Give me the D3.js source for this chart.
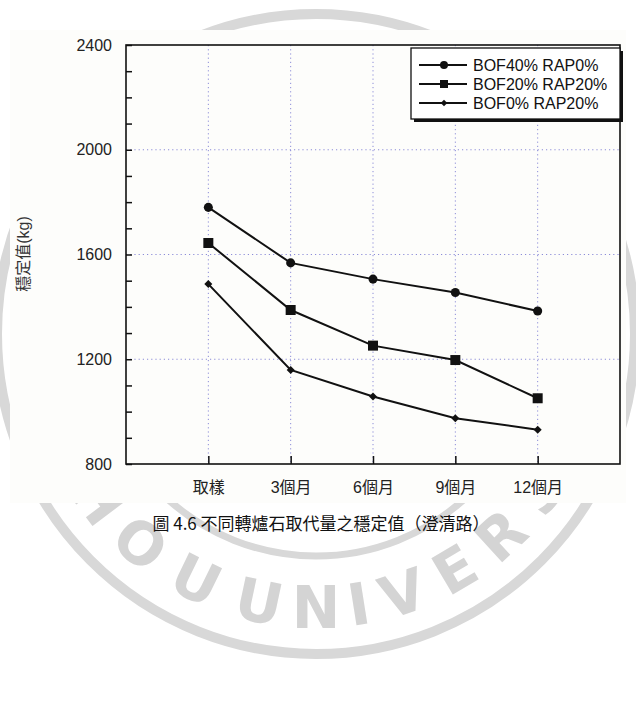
<!DOCTYPE html>
<html>
<head>
<meta charset="utf-8">
<script src="https://cdn.jsdelivr.net/npm/d3@7"></script>
<style>
  body { margin: 0; background: #fff; }
  svg { display: block; }
  text { font-family: "Liberation Sans", Arial, "Noto Sans CJK TC", sans-serif; }
</style>
</head>
<body>
<div id="chart"></div>
<script>
// 穩定值 (kg) 隨時間變化
const categories = ['取樣', '3個月', '6個月', '9個月', '12個月'];
const bof40rap0 = [1780, 1568, 1506, 1455, 1384];
const bof20rap20 = [1644, 1388, 1252, 1197, 1051];
const bof0rap20 = [1487, 1159, 1058, 975, 931];
const seriesNames = ['BOF40% RAP0%', 'BOF20% RAP20%', 'BOF0% RAP20%'];
const yMajorTicks = [800, 1200, 1600, 2000, 2400];
const yTitle = '穩定值(kg)';
const caption = '圖 4.6 不同轉爐石取代量之穩定值（澄清路）';

const W = 636, H = 705;
const plot = { left: 126, right: 620, top: 45, bottom: 464 };

const svg = d3.select('#chart').append('svg')
    .attr('width', W)
    .attr('height', H);

// 浮水印 (校徽)
const wm = { cx: 316, cy: 334, color: '#d8d8d8' };
svg.append('ellipse')
    .attr('cx', wm.cx).attr('cy', wm.cy)
    .attr('rx', 319).attr('ry', 320)
    .attr('fill', 'none')
    .attr('stroke', wm.color)
    .attr('stroke-width', 10);
svg.append('circle')
    .attr('cx', wm.cx).attr('cy', wm.cy)
    .attr('r', 222)
    .attr('fill', 'none')
    .attr('stroke', wm.color)
    .attr('stroke-width', 7);
const wmLetters = [
    ['I', 170], ['-', 163], ['S', 155], ['H', 143], ['O', 130], ['U', 116],
    ['U', 102], ['N', 90], ['I', 81], ['V', 71.5], ['E', 59.5], ['R', 47.5],
    ['S', 35], ['I', 27], ['T', 19], ['Y', 9]
];
svg.append('g').selectAll('text')
    .data(wmLetters)
    .enter()
    .append('text')
    .attr('transform', d => {
        const a = d[1] * Math.PI / 180;
        const x = wm.cx + 274 * Math.cos(a), y = wm.cy + 274 * Math.sin(a);
        return `translate(${x},${y}) rotate(${d[1] - 90})`;
    })
    .attr('text-anchor', 'middle')
    .attr('dominant-baseline', 'central')
    .attr('font-size', 58)
    .attr('font-weight', 'bold')
    .attr('fill', '#d4d4d4')
    .style('font-family', '"DejaVu Sans", sans-serif')
    .text(d => d[0]);

// 圖片底色
svg.append('rect')
    .attr('x', 10).attr('y', 30)
    .attr('width', 616).attr('height', 473)
    .attr('fill', '#fdfdfb');

const x = d3.scalePoint()
    .domain(categories)
    .range([plot.left, plot.right])
    .padding(1);
const y = d3.scaleLinear()
    .domain([800, 2400])
    .range([plot.bottom, plot.top]);

// 格線
const grid = svg.append('g')
    .attr('stroke', '#8c8cd8')
    .attr('stroke-width', 1)
    .attr('stroke-dasharray', '1.2,3');
grid.selectAll('line.v')
    .data(categories)
    .enter()
    .append('line')
    .attr('x1', d => x(d)).attr('x2', d => x(d))
    .attr('y1', plot.top).attr('y2', plot.bottom);
grid.selectAll('line.h')
    .data(yMajorTicks.slice(1, -1))
    .enter()
    .append('line')
    .attr('x1', plot.left).attr('x2', plot.right)
    .attr('y1', d => y(d)).attr('y2', d => y(d));

// 座標軸
svg.append('g')
    .attr('transform', `translate(${plot.left},0)`)
    .call(d3.axisLeft(y).tickValues(yMajorTicks).tickSize(0).tickPadding(14).tickFormat(d3.format('d')));
svg.append('g')
    .attr('transform', `translate(${plot.left},0)`)
    .call(d3.axisLeft(y).tickValues(d3.range(800, 2401, 100)).tickSize(-6).tickFormat(''));
svg.append('g')
    .attr('transform', `translate(0,${plot.bottom})`)
    .call(d3.axisBottom(x).tickSize(0).tickPadding(18));
svg.append('g')
    .attr('transform', `translate(0,${plot.bottom})`)
    .call(d3.axisBottom(x).tickSize(-8).tickFormat(''));
svg.selectAll('.domain').remove();
svg.selectAll('.tick line').attr('stroke', '#111').attr('stroke-width', 1.5);
svg.selectAll('.tick text')
    .attr('font-size', 16)
    .attr('fill', '#222')
    .style('font-family', '"Liberation Sans", Arial, "Noto Sans CJK TC", sans-serif');

// 外框
svg.append('rect')
    .attr('x', plot.left).attr('y', plot.top)
    .attr('width', plot.right - plot.left)
    .attr('height', plot.bottom - plot.top)
    .attr('fill', 'none')
    .attr('stroke', '#111')
    .attr('stroke-width', 1.6);

const series = [
    { name: seriesNames[0], values: bof40rap0, symbol: d3.symbolCircle, size: 64, rot: 0 },
    { name: seriesNames[1], values: bof20rap20, symbol: d3.symbolSquare, size: 100, rot: 0 },
    { name: seriesNames[2], values: bof0rap20, symbol: d3.symbolSquare, size: 32, rot: 45 }
];

const line = d3.line()
    .x((d, i) => x(categories[i]))
    .y(d => y(d));

series.forEach(s => {
    svg.append('path')
        .datum(s.values)
        .attr('d', line)
        .attr('fill', 'none')
        .attr('stroke', '#111')
        .attr('stroke-width', 2);
    svg.append('g').selectAll('path')
        .data(s.values)
        .enter()
        .append('path')
        .attr('d', d3.symbol().type(s.symbol).size(s.size))
        .attr('transform', (d, i) => `translate(${x(categories[i])},${y(d)}) rotate(${s.rot})`)
        .attr('fill', '#111');
});

// 圖例
const lg = { x: 411, y: 48, w: 209, h: 71 };
svg.append('rect')
    .attr('x', lg.x + 3).attr('y', lg.y + 3)
    .attr('width', lg.w).attr('height', lg.h)
    .attr('fill', '#111');
svg.append('rect')
    .attr('x', lg.x).attr('y', lg.y)
    .attr('width', lg.w).attr('height', lg.h)
    .attr('fill', '#fff')
    .attr('stroke', '#111')
    .attr('stroke-width', 1.3);
const legendSizes = [50, 64, 22];
series.forEach((s, i) => {
    const ry = lg.y + 17 + i * 19;
    svg.append('line')
        .attr('x1', lg.x + 8).attr('x2', lg.x + 56)
        .attr('y1', ry).attr('y2', ry)
        .attr('stroke', '#111')
        .attr('stroke-width', 2);
    svg.append('path')
        .attr('d', d3.symbol().type(s.symbol).size(legendSizes[i]))
        .attr('transform', `translate(${lg.x + 33},${ry}) rotate(${s.rot})`)
        .attr('fill', '#111');
    svg.append('text')
        .attr('x', lg.x + 62)
        .attr('y', ry)
        .attr('dominant-baseline', 'central')
        .attr('font-size', 16)
        .attr('fill', '#111')
        .text(s.name);
});

// Y 軸標題
svg.append('text')
    .attr('transform', 'translate(23,254) rotate(-90)')
    .attr('text-anchor', 'middle')
    .attr('dominant-baseline', 'central')
    .attr('font-size', 16)
    .attr('fill', '#333')
    .text(yTitle);

// 圖說
svg.append('text')
    .attr('x', 321)
    .attr('y', 522)
    .attr('text-anchor', 'middle')
    .attr('dominant-baseline', 'central')
    .attr('font-size', 17)
    .attr('fill', '#111')
    .style('font-family', '"Noto Sans CJK TC", sans-serif')
    .text(caption);
</script>
</body>
</html>
